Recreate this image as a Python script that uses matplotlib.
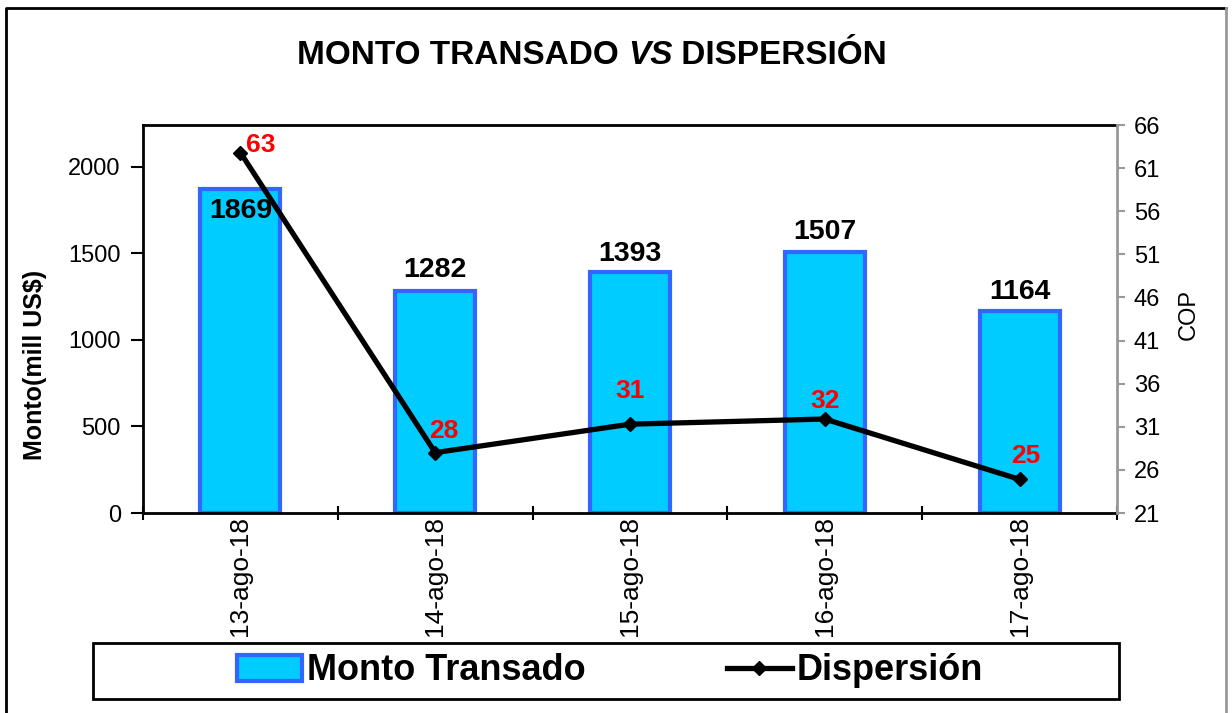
import matplotlib
matplotlib.use('Agg')
import matplotlib.pyplot as plt
from matplotlib.patches import Patch, Rectangle
from matplotlib.lines import Line2D

plt.rcParams['font.family'] = ['Liberation Sans', 'DejaVu Sans']

fechas = ['13-ago-18', '14-ago-18', '15-ago-18', '16-ago-18', '17-ago-18']
monto = [1869, 1282, 1393, 1507, 1164]
dispersion = [62.8, 28.0, 31.3, 31.9, 24.9]
etiquetas_disp = ['63', '28', '31', '32', '25']

# desplazamiento de etiquetas (pixeles) como en el original
off_monto = [-22, 21, 18, 20, 19]
off_disp = [(20, 8), (9, 22), (0, 33), (0, 18), (6, 23)]

W, H = 1232, 713
fig = plt.figure(figsize=(W / 100, H / 100), dpi=100)
ax = fig.add_axes([143 / W, 1 - 513 / H, (1117 - 143) / W, (513 - 125) / H])
ax2 = ax.twinx()

x = list(range(len(fechas)))
ax.bar(x, monto, width=0.41, color='#00CCFF', edgecolor='#3366FF', linewidth=3, zorder=2)
ax.set_xlim(-0.5, len(fechas) - 0.5)
ax.set_ylim(0, 2240)
ax.set_yticks([0, 500, 1000, 1500, 2000])
ax.set_xticks([i - 0.5 for i in range(len(fechas) + 1)], minor=False)
ax.set_xticklabels([])
ax.set_xticks(x, minor=True)
ax.set_xticklabels(fechas, minor=True, rotation=90, fontsize=19)
ax.tick_params(axis='x', which='minor', length=0, pad=2)
ax.tick_params(axis='x', which='major', direction='inout', length=10, width=1.5)
ax.tick_params(axis='y', direction='out', length=9, width=1.5, labelsize=17, pad=7)
for s in ['left', 'bottom', 'top']:
    ax.spines[s].set_linewidth(2)
ax.spines['right'].set_visible(False)
ax.set_ylabel('Monto(mill US$)', fontsize=18, fontweight='bold')
ax.yaxis.set_label_coords((47 - 143) / 974, (513 - 365) / 388)

for xi, v, off in zip(x, monto, off_monto):
    ax.annotate(str(v), (xi, v), xytext=(0, off * 0.72), textcoords='offset points',
                ha='center', va='center', fontsize=20.5, fontweight='bold')

ax2.plot(x, dispersion, color='black', linewidth=3.8, marker='D', markersize=7.5, zorder=3)
ax2.set_ylim(21, 66)
ax2.set_yticks(range(21, 67, 5))
ax2.tick_params(axis='y', direction='out', length=6, width=1.5, color='#999999', labelsize=17, pad=6)
for s in ['left', 'bottom', 'top']:
    ax2.spines[s].set_visible(False)
ax2.spines['right'].set_color('#999999')
ax2.spines['right'].set_linewidth(2)
ax2.set_ylabel('COP', fontsize=17)
ax2.yaxis.set_label_coords((1178 - 143) / 974, (513 - 315) / 388)

for xi, v, lab, (dx, dy) in zip(x, dispersion, etiquetas_disp, off_disp):
    ax2.annotate(lab, (xi, v), xytext=(dx * 0.72, dy * 0.72), textcoords='offset points',
                 ha='center', va='center', fontsize=19, fontweight='bold', color='#FF0000')

# titulo con VS en cursiva
fig.canvas.draw()
r = fig.canvas.get_renderer()
partes = [('MONTO TRANSADO ', 'normal'), ('VS', 'italic'), (' DISPERSIÓN', 'normal')]
textos = []
for t, st in partes:
    textos.append(fig.text(0, 1 - 56 / H, t, fontsize=24, fontweight='bold', style=st, va='center'))
anchos = [tx.get_window_extent(r).width for tx in textos]
x0 = 592 - sum(anchos) / 2
for tx, w in zip(textos, anchos):
    tx.set_x(x0 / W)
    x0 += w

# leyenda
h1 = Patch(facecolor='#00CCFF', edgecolor='#3366FF', linewidth=3)
h2 = Line2D([], [], color='black', linewidth=3.8, marker='D', markersize=7.5)
fig.legend([h1, h2], ['Monto Transado', 'Dispersión'], loc='center',
           bbox_to_anchor=(610 / W, 1 - 671 / H), ncol=2, frameon=False,
           prop={'size': 26, 'weight': 'bold'},
           handlelength=1.8, handleheight=0.7, handletextpad=0.15, columnspacing=3.9)
fig.patches.append(Rectangle((93 / W, 1 - 699 / H), (1119 - 93) / W, 56 / H,
                             transform=fig.transFigure, fill=False, edgecolor='black',
                             linewidth=2))

# marco exterior
fig.lines.append(Line2D([6 / W, 6 / W, 1226 / W], [0, 1 - 8 / H, 1 - 8 / H],
                        transform=fig.transFigure, color='black', linewidth=2))
fig.lines.append(Line2D([1226 / W, 1226 / W], [1 - 8 / H, 0],
                        transform=fig.transFigure, color='#999999', linewidth=2))

fig.savefig('out.png', dpi=100, facecolor='white')
